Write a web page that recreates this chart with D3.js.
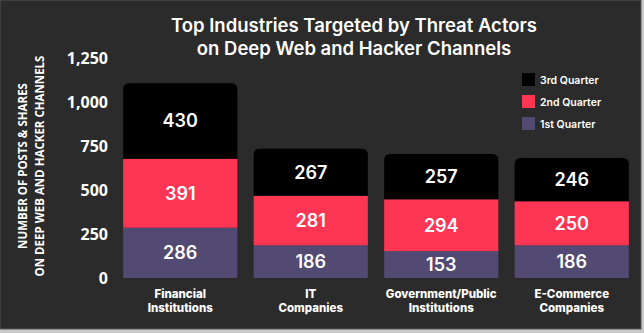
<!DOCTYPE html>
<html><head><meta charset="utf-8">
<script src="https://cdn.jsdelivr.net/npm/d3@7"></script>
<style>html,body{margin:0;padding:0;background:#2b2b2b;}svg{display:block;}</style>
</head><body>
<svg id="c" width="644" height="333"></svg>
<script>
const categories = [["Financial","Institutions"],["IT","Companies"],["Government/Public","Institutions"],["E-Commerce","Companies"]];
const categoryKeys = ["Financial Institutions","IT Companies","Government/Public Institutions","E-Commerce Companies"];
const seriesNames = ["1st Quarter","2nd Quarter","3rd Quarter"];
const q1 = [286,186,153,186];
const q2 = [391,281,294,250];
const q3 = [430,267,257,246];
const yTicks = [0,250,500,750,1000,1250];
const colors = ["#524a72","#ff3554","#000000"];

const svg = d3.select("#c");
svg.append("rect").attr("x",0).attr("y",0).attr("width",644).attr("height",333).attr("fill","#c9c9c9");
svg.append("rect").attr("x",0).attr("y",0).attr("width",641).attr("height",329).attr("fill","#2b2b2b").attr("stroke","#555").attr("stroke-width",1);

const x = d3.scaleBand().domain(categoryKeys).range([115,637]).paddingInner(0.125).paddingOuter(0.0625);
const y = d3.scaleLinear().domain([0,1250]).range([278,58]);

const rows = categoryKeys.map((k,i)=>({key:k,q1:q1[i],q2:q2[i],q3:q3[i]}));
const stack = d3.stack().keys(["q1","q2","q3"])(rows);

const F = "Inter, sans-serif";
// title
const title = svg.append("text").attr("text-anchor","middle")
  .attr("fill","#fff").style("font-family",F).style("font-weight","600").style("font-size","18.5px");
title.append("tspan").attr("x",354).attr("y",32).text("Top Industries Targeted by Threat Actors");
title.append("tspan").attr("x",354).attr("y",55).text("on Deep Web and Hacker Channels");

// y axis label
const yl = svg.append("text").attr("transform","translate(0,166) rotate(-90)").attr("text-anchor","middle")
  .attr("fill","#fff").style("font-family","'Open Sans', sans-serif").style("font-weight","700").style("font-size","11.5px");
yl.append("tspan").attr("x",0).attr("y",27).text("NUMBER OF POSTS & SHARES");
yl.append("tspan").attr("x",0).attr("y",44).text("ON DEEP WEB AND HACKER CHANNELS");

// y axis
const ya = svg.append("g").attr("transform","translate(108,0)")
  .call(d3.axisLeft(y).tickValues(yTicks).tickSize(0).tickPadding(0).tickFormat(d3.format(",")));
ya.select(".domain").remove();
ya.selectAll("text").attr("fill","#fff").style("font-family","'Open Sans', sans-serif").style("font-weight","700").style("font-size","16px").attr("dy","0.35em");

// bars
const r = 6;
function topRounded(x0,y0,w,h,rr){
  return `M${x0},${y0+h}V${y0+rr}Q${x0},${y0} ${x0+rr},${y0}H${x0+w-rr}Q${x0+w},${y0} ${x0+w},${y0+rr}V${y0+h}Z`;
}
stack.forEach((s,si)=>{
  const g = svg.append("g");
  s.forEach(d=>{
    const x0 = x(d.data.key), w = x.bandwidth();
    const yt = y(d[1]), yb = y(d[0]);
    if(si===2){
      g.append("path").attr("d",topRounded(x0,yt,w,yb-yt,r)).attr("fill",colors[si]);
    } else {
      g.append("rect").attr("x",x0).attr("y",yt).attr("width",w).attr("height",yb-yt).attr("fill",colors[si]);
    }
    g.append("text").attr("x",x0+w/2).attr("y",(yt+yb)/2).attr("dy","0.36em").attr("text-anchor","middle")
      .attr("fill","#fff").style("font-family",F).style("font-weight","600").style("font-size","18px")
      .text(d[1]-d[0]);
  });
});

// x labels
categories.forEach((c,i)=>{
  const t = svg.append("text").attr("text-anchor","middle").attr("fill","#fff")
    .style("font-family",F).style("font-weight","800").style("font-size","11.5px");
  const cx = x(categoryKeys[i]) + x.bandwidth()/2;
  t.append("tspan").attr("x",cx).attr("y",298).text(c[0]);
  t.append("tspan").attr("x",cx).attr("y",312).text(c[1]);
});

// legend
const legendOrder = [2,1,0];
legendOrder.forEach((si,j)=>{
  svg.append("rect").attr("x",522).attr("y",73+j*22).attr("width",13).attr("height",13).attr("fill",colors[si]);
  svg.append("text").attr("x",540).attr("y",80+j*22).attr("dy","0.35em").attr("fill","#fff")
    .style("font-family",F).style("font-weight","600").style("font-size","10.5px").text(seriesNames[si]);
});
</script>
</body></html>
